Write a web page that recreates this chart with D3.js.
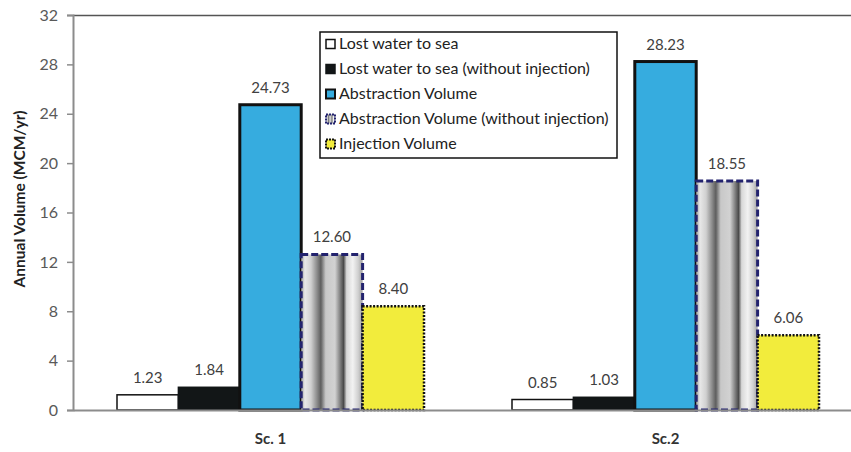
<!DOCTYPE html>
<html><head><meta charset="utf-8">
<script src="https://cdn.jsdelivr.net/npm/d3@7"></script>
<style>body{margin:0;background:#fff}svg{display:block}</style>
</head><body>
<script>
const categories = ["Sc. 1", "Sc.2"];
const seriesNames = ["Lost water to sea", "Lost water to sea (without injection)", "Abstraction Volume", "Abstraction Volume (without injection)", "Injection Volume"];
const lostWater = [1.23, 0.85];
const lostWaterNoInj = [1.84, 1.03];
const abstraction = [24.73, 28.23];
const abstractionNoInj = [12.60, 18.55];
const injection = [8.40, 6.06];
const yTicks = [0, 4, 8, 12, 16, 20, 24, 28, 32];
const seriesValues = [lostWater, lostWaterNoInj, abstraction, abstractionNoInj, injection];

const W = 851, H = 452;
const FONT = "Lato, 'Open Sans', sans-serif";
const svg = d3.select("body").append("svg").attr("width", W).attr("height", H);
const defs = svg.append("defs");
const grad = defs.append("linearGradient").attr("id", "metal").attr("x1", 0).attr("x2", 1).attr("y1", 0).attr("y2", 0);
[[0, "#9a9a9a"], [0.06, "#e8e8e8"], [0.16, "#d0d0d0"], [0.26, "#8a8a8a"], [0.32, "#5e5e5e"], [0.4, "#c8c8c8"], [0.55, "#d2d2d2"], [0.64, "#7a7a7a"], [0.69, "#4a4a4a"], [0.74, "#d8d8d8"], [0.84, "#f2f2f2"], [0.93, "#cfcfcf"], [1, "#a0a0a0"]]
  .forEach(([o, c]) => grad.append("stop").attr("offset", o).attr("stop-color", c));

const plotLeft = 73, plotTop = 15, plotBottom = 410;
const y = d3.scaleLinear().domain([0, 32]).range([plotBottom, plotTop]);
const x0 = d3.scaleBand().domain(categories).range([plotLeft, plotLeft + 790]).padding(0);
const x1 = d3.scaleBand().domain(d3.range(5)).range([44, 351]).padding(0);

const styles = [
  {fill: "#ffffff", stroke: "#111", sw: 1.5, dash: null},
  {fill: "#121617", stroke: "#121617", sw: 1.5, dash: null},
  {fill: "#36acdf", stroke: "#111", sw: 3, dash: null},
  {fill: "url(#metal)", stroke: "#23236e", sw: 3, dash: "7,3"},
  {fill: "#f2ec3c", stroke: "#111", sw: 2.5, dash: "2,1.5"}
];

// top border
svg.append("line").attr("x1", plotLeft).attr("x2", W).attr("y1", plotTop + 0.5).attr("y2", plotTop + 0.5)
  .attr("stroke", "#555").attr("stroke-width", 1.5);

// bars
categories.forEach((c, ci) => {
  seriesValues.forEach((vals, si) => {
    const s = styles[si];
    const bx = x0(c) + x1(si), bw = x1.bandwidth();
    svg.append("rect").attr("x", bx).attr("y", y(vals[ci])).attr("width", bw)
      .attr("height", y(0) - y(vals[ci]))
      .attr("fill", s.fill).attr("stroke", s.stroke).attr("stroke-width", s.sw)
      .attr("stroke-dasharray", s.dash);
    svg.append("text").attr("x", bx + bw / 2).attr("y", y(vals[ci]) - 12)
      .attr("text-anchor", "middle").attr("font-family", FONT)
      .attr("font-size", 15).attr("fill", "#404040").text(vals[ci].toFixed(2));
  });
});

// y axis
const yAxis = svg.append("g").attr("transform", `translate(${plotLeft},0)`)
  .call(d3.axisLeft(y).tickValues(yTicks).tickSize(6).tickPadding(9).tickFormat(d3.format("d")));
yAxis.select(".domain").attr("stroke", "#8c8c8c").attr("stroke-width", 2);
yAxis.selectAll(".tick line").attr("stroke", "#8c8c8c").attr("stroke-width", 1.5);
yAxis.selectAll(".tick text").attr("font-family", FONT).attr("font-size", 16).attr("fill", "#595959");

// x axis
const xAxis = svg.append("g").attr("transform", `translate(0,${plotBottom})`)
  .call(d3.axisBottom(x0).tickSize(0).tickPadding(23));
xAxis.select(".domain").attr("stroke", "#8c8c8c").attr("stroke-width", 2);
xAxis.selectAll(".tick text").attr("font-family", FONT).attr("font-size", 15)
  .attr("font-weight", "bold").attr("fill", "#333");

// y title
svg.append("text").attr("transform", "translate(25,199) rotate(-90)").attr("text-anchor", "middle")
  .attr("font-family", FONT).attr("font-size", 15.5).attr("font-weight", "bold")
  .attr("fill", "#222").text("Annual Volume (MCM/yr)");

// legend
const lg = svg.append("g").attr("transform", "translate(320,32)");
lg.append("rect").attr("width", 297).attr("height", 126).attr("fill", "#fff").attr("stroke", "#111").attr("stroke-width", 1.5);
seriesNames.forEach((n, i) => {
  const s = styles[i];
  const cy = 12 + i * 25;
  lg.append("rect").attr("x", 6).attr("y", cy - 4.5).attr("width", 9).attr("height", 9)
    .attr("fill", s.fill).attr("stroke", s.stroke).attr("stroke-width", Math.min(s.sw, 2))
    .attr("stroke-dasharray", s.dash ? "2,1" : null);
  lg.append("text").attr("x", 19).attr("y", cy + 5).attr("font-family", FONT)
    .attr("font-size", 16).attr("fill", "#222").text(n);
});
</script>
</body></html>
